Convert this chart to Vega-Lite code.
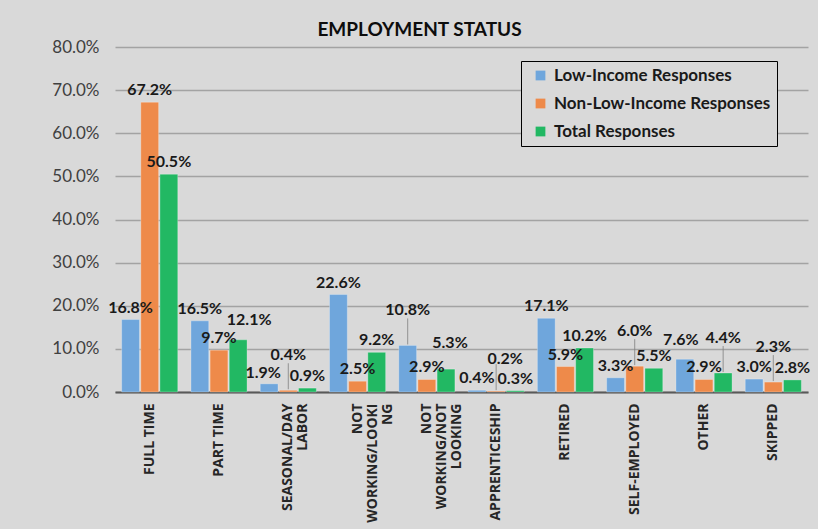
{
  "$schema": "https://vega.github.io/schema/vega-lite/v6.json",
  "autosize": "none",
  "width": 693,
  "height": 345,
  "padding": {"left": 115, "top": 47, "right": 10, "bottom": 137},
  "background": "#d9d9d9",
  "title": {
    "text": "EMPLOYMENT STATUS",
    "font": "Lato",
    "fontSize": 19,
    "fontWeight": "bold",
    "color": "#0d0d0d",
    "anchor": "middle",
    "dx": -42,
    "offset": -2
  },
  "data": {
    "values": [
      {"category": "FULL TIME", "series": "Low-Income Responses", "value": 0.168},
      {"category": "FULL TIME", "series": "Non-Low-Income Responses", "value": 0.672},
      {"category": "FULL TIME", "series": "Total Responses", "value": 0.505},
      {"category": "PART TIME", "series": "Low-Income Responses", "value": 0.165},
      {"category": "PART TIME", "series": "Non-Low-Income Responses", "value": 0.097},
      {"category": "PART TIME", "series": "Total Responses", "value": 0.121},
      {"category": "SEASONAL/DAY LABOR", "series": "Low-Income Responses", "value": 0.019},
      {"category": "SEASONAL/DAY LABOR", "series": "Non-Low-Income Responses", "value": 0.004},
      {"category": "SEASONAL/DAY LABOR", "series": "Total Responses", "value": 0.009},
      {"category": "NOT WORKING/LOOKING", "series": "Low-Income Responses", "value": 0.226},
      {"category": "NOT WORKING/LOOKING", "series": "Non-Low-Income Responses", "value": 0.025},
      {"category": "NOT WORKING/LOOKING", "series": "Total Responses", "value": 0.092},
      {"category": "NOT WORKING/NOT LOOKING", "series": "Low-Income Responses", "value": 0.108},
      {"category": "NOT WORKING/NOT LOOKING", "series": "Non-Low-Income Responses", "value": 0.029},
      {"category": "NOT WORKING/NOT LOOKING", "series": "Total Responses", "value": 0.053},
      {"category": "APPRENTICESHIP", "series": "Low-Income Responses", "value": 0.004},
      {"category": "APPRENTICESHIP", "series": "Non-Low-Income Responses", "value": 0.002},
      {"category": "APPRENTICESHIP", "series": "Total Responses", "value": 0.003},
      {"category": "RETIRED", "series": "Low-Income Responses", "value": 0.171},
      {"category": "RETIRED", "series": "Non-Low-Income Responses", "value": 0.059},
      {"category": "RETIRED", "series": "Total Responses", "value": 0.102},
      {"category": "SELF-EMPLOYED", "series": "Low-Income Responses", "value": 0.033},
      {"category": "SELF-EMPLOYED", "series": "Non-Low-Income Responses", "value": 0.060},
      {"category": "SELF-EMPLOYED", "series": "Total Responses", "value": 0.055},
      {"category": "OTHER", "series": "Low-Income Responses", "value": 0.076},
      {"category": "OTHER", "series": "Non-Low-Income Responses", "value": 0.029},
      {"category": "OTHER", "series": "Total Responses", "value": 0.044},
      {"category": "SKIPPED", "series": "Low-Income Responses", "value": 0.030},
      {"category": "SKIPPED", "series": "Non-Low-Income Responses", "value": 0.023},
      {"category": "SKIPPED", "series": "Total Responses", "value": 0.028}
    ]
  },
  "encoding": {
    "x": {
      "field": "category",
      "type": "nominal",
      "sort": null,
      "title": null,
      "scale": {"paddingInner": 0.19, "paddingOuter": 0.096},
      "axis": {
        "labelAngle": -90,
        "labelAlign": "right",
        "labelBaseline": "middle",
        "labelFont": "Open Sans",
        "labelFontWeight": "bold",
        "labelFontSize": 14,
        "labelColor": "#262626",
        "labelPadding": 11,
        "labelLineHeight": 15,
        "labelLimit": 200,
        "labelExpr": "datum.label == 'SEASONAL/DAY LABOR' ? ['SEASONAL/DAY', 'LABOR\u00a0\u00a0\u00a0\u00a0\u00a0\u00a0\u00a0'] : datum.label == 'NOT WORKING/LOOKING' ? ['NOT\u00a0\u00a0\u00a0\u00a0\u00a0\u00a0\u00a0\u00a0\u00a0\u00a0\u00a0', 'WORKING/LOOKI', 'NG\u00a0\u00a0\u00a0\u00a0\u00a0\u00a0\u00a0\u00a0\u00a0\u00a0\u00a0\u00a0'] : datum.label == 'NOT WORKING/NOT LOOKING' ? ['NOT\u00a0\u00a0\u00a0\u00a0\u00a0\u00a0\u00a0\u00a0\u00a0', 'WORKING/NOT', 'LOOKING\u00a0\u00a0\u00a0\u00a0'] : datum.label",
        "ticks": false,
        "domainColor": "#595959",
        "domainWidth": 2,
        "grid": false
      }
    },
    "xOffset": {
      "field": "series",
      "type": "nominal",
      "scale": {"paddingInner": 0.07, "paddingOuter": 0}
    },
    "y": {
      "field": "value",
      "type": "quantitative",
      "title": null,
      "scale": {"domain": [0, 0.8], "nice": false},
      "axis": {
        "values": [0, 0.1, 0.2, 0.3, 0.4, 0.5, 0.6, 0.7, 0.8],
        "format": ".1%",
        "labelFont": "Lato",
        "labelFontSize": 17,
        "labelColor": "#404040",
        "labelPadding": 16,
        "ticks": false,
        "domain": false,
        "gridColor": "#a3a3a3",
        "gridWidth": 1.5
      }
    }
  },
  "layer": [
    {
      "mark": {"type": "bar", "stroke": "#ffffff", "strokeOpacity": 0.35, "strokeWidth": 0.8},
      "encoding": {
        "color": {
          "field": "series",
          "type": "nominal",
          "scale": {
            "domain": ["Low-Income Responses", "Non-Low-Income Responses", "Total Responses"],
            "range": ["#6fa6dc", "#ee8a4a", "#22b863"]
          },
          "legend": {
            "title": null,
            "orient": "none",
            "legendX": 406,
            "legendY": 14,
            "symbolType": "square",
            "symbolSize": 95,
            "symbolStrokeWidth": 0,
            "symbolOffset": 5,
            "labelFont": "Lato",
            "labelFontSize": 17,
            "labelFontWeight": "bold",
            "labelColor": "#1a1a1a",
            "labelOffset": 5,
            "rowPadding": 10,
            "padding": 6,
            "strokeColor": "#000000",
            "fillColor": "#d9d9d9",
            "labelLimit": 300,
            "encode": {
              "legend": {"update": {"strokeWidth": {"value": 2}}}
            }
          }
        }
      }
    },
    {
      "transform": [{"filter": "(datum.series == 'Non-Low-Income Responses' && indexof(['SEASONAL/DAY LABOR','SELF-EMPLOYED','SKIPPED','APPRENTICESHIP'], datum.category) >= 0) || (datum.series == 'Low-Income Responses' && datum.category == 'NOT WORKING/NOT LOOKING') || (datum.series == 'Total Responses' && datum.category == 'OTHER')"}],
      "mark": {"type": "rule", "color": "#7f7f7f", "strokeWidth": 0.8, "yOffset": -1, "y2Offset": -27},
      "encoding": {"y2": {"field": "value"}}
    },
    {
      "transform": [{"filter": "!((datum.series == 'Non-Low-Income Responses' && indexof(['SEASONAL/DAY LABOR','SELF-EMPLOYED','SKIPPED','APPRENTICESHIP'], datum.category) >= 0) || (datum.series == 'Low-Income Responses' && indexof(['NOT WORKING/NOT LOOKING','OTHER','SEASONAL/DAY LABOR'], datum.category) >= 0) || (datum.series == 'Total Responses' && indexof(['OTHER','PART TIME','NOT WORKING/NOT LOOKING'], datum.category) >= 0))"}],
      "mark": {"type": "text", "baseline": "bottom", "dy": -4, "font": "Lato", "fontSize": 16, "fontWeight": "bold", "color": "#1a1a1a"},
      "encoding": {"text": {"field": "value", "type": "quantitative", "format": ".1%"}}
    },
    {
      "transform": [{"filter": "datum.series == 'Low-Income Responses' && datum.category == 'SEASONAL/DAY LABOR'"}],
      "mark": {"type": "text", "baseline": "bottom", "dy": -3, "dx": -6, "font": "Lato", "fontSize": 16, "fontWeight": "bold", "color": "#1a1a1a"},
      "encoding": {"text": {"field": "value", "type": "quantitative", "format": ".1%"}}
    },
    {
      "transform": [{"filter": "(datum.series == 'Non-Low-Income Responses' && indexof(['SEASONAL/DAY LABOR','SELF-EMPLOYED','SKIPPED'], datum.category) >= 0) || (datum.series == 'Low-Income Responses' && datum.category == 'NOT WORKING/NOT LOOKING') || (datum.series == 'Total Responses' && datum.category == 'OTHER')"}],
      "mark": {"type": "text", "baseline": "bottom", "dy": -27, "font": "Lato", "fontSize": 16, "fontWeight": "bold", "color": "#1a1a1a"},
      "encoding": {"text": {"field": "value", "type": "quantitative", "format": ".1%"}}
    },
    {
      "transform": [{"filter": "datum.series == 'Non-Low-Income Responses' && datum.category == 'APPRENTICESHIP'"}],
      "mark": {"type": "text", "baseline": "bottom", "dy": -24, "dx": 9, "font": "Lato", "fontSize": 16, "fontWeight": "bold", "color": "#1a1a1a"},
      "encoding": {"text": {"field": "value", "type": "quantitative", "format": ".1%"}}
    },
    {
      "transform": [{"filter": "datum.series == 'Total Responses' && datum.category == 'PART TIME'"}],
      "mark": {"type": "text", "baseline": "bottom", "dy": -12, "dx": 11, "font": "Lato", "fontSize": 16, "fontWeight": "bold", "color": "#1a1a1a"},
      "encoding": {"text": {"field": "value", "type": "quantitative", "format": ".1%"}}
    },
    {
      "transform": [{"filter": "datum.series == 'Total Responses' && datum.category == 'NOT WORKING/NOT LOOKING'"}],
      "mark": {"type": "text", "baseline": "bottom", "dy": -18, "dx": 4, "font": "Lato", "fontSize": 16, "fontWeight": "bold", "color": "#1a1a1a"},
      "encoding": {"text": {"field": "value", "type": "quantitative", "format": ".1%"}}
    },
    {
      "transform": [{"filter": "datum.series == 'Low-Income Responses' && datum.category == 'OTHER'"}],
      "mark": {"type": "text", "baseline": "bottom", "dy": -11, "dx": -4, "font": "Lato", "fontSize": 16, "fontWeight": "bold", "color": "#1a1a1a"},
      "encoding": {"text": {"field": "value", "type": "quantitative", "format": ".1%"}}
    }
  ],
  "config": {
    "view": {"stroke": null}
  }
}
